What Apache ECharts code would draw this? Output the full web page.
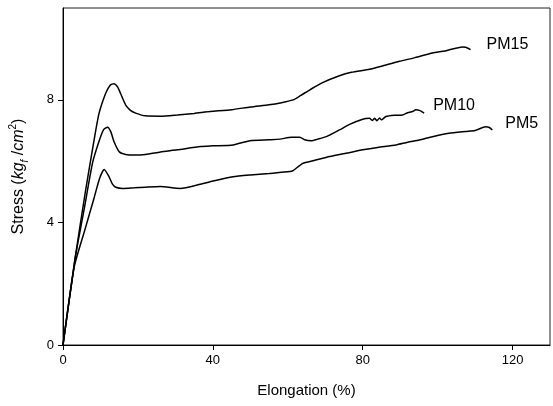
<!DOCTYPE html>
<html>
<head>
<meta charset="utf-8">
<script src="https://cdn.jsdelivr.net/npm/echarts@6/dist/echarts.min.js"></script>
<style>html,body{margin:0;padding:0;background:#fff;}#c{width:553px;height:406px;}</style>
</head>
<body>
<div id="c"></div>
<script>
// Elongation (%) , Stress (kgf/cm2)
const pm15 = [[0,0],[3.2,2.8],[6.1,5.1],[8.1,6.55],[9.6,7.55],[11.4,8.22],[12.6,8.48],[13.6,8.53],[14.6,8.42],[15.4,8.2],[16.7,7.84],[18,7.66],[19.4,7.57],[22,7.48],[26,7.47],[30.5,7.51],[35,7.56],[39.3,7.62],[45,7.68],[50,7.77],[55,7.84],[58,7.9],[61.4,8.0],[63.5,8.15],[65.9,8.33],[69,8.55],[73.8,8.79],[77,8.9],[81.8,9.0],[85,9.1],[89.8,9.26],[94,9.38],[98.6,9.53],[102,9.6],[106.6,9.73],[107.5,9.72],[108.8,9.64]];
const pm10 = [[0,0],[3.2,2.8],[5.6,4.4],[7.9,5.95],[9.6,6.64],[10.8,7.02],[11.9,7.11],[12.8,6.95],[13.6,6.64],[15,6.31],[16.7,6.22],[19,6.2],[22,6.22],[26,6.3],[30.5,6.37],[36.7,6.48],[40,6.5],[45.4,6.53],[49.9,6.67],[55,6.7],[57.9,6.72],[61,6.78],[63.2,6.78],[64.5,6.7],[66.3,6.67],[68,6.72],[70.3,6.8],[73.8,7.02],[76.5,7.2],[80,7.37],[81.8,7.4],[82.6,7.33],[83.2,7.4],[83.8,7.32],[84.5,7.41],[85,7.35],[86.2,7.46],[88.5,7.5],[90.6,7.51],[92,7.58],[93.3,7.62],[94.2,7.68],[95.3,7.65],[96.4,7.57]];
const pm5 = [[0,0],[3,2.55],[5.7,3.7],[8.3,4.8],[9.8,5.45],[11,5.73],[12.3,5.49],[13.2,5.25],[14.1,5.15],[15.9,5.11],[19,5.13],[22,5.15],[26,5.17],[31.3,5.11],[36.7,5.25],[39.3,5.33],[45.4,5.49],[50,5.55],[55,5.6],[60.6,5.66],[61.4,5.69],[64,5.93],[67,6.02],[71.2,6.15],[76,6.27],[80,6.37],[84,6.45],[88.9,6.53],[92,6.62],[95.1,6.69],[98.6,6.8],[103,6.91],[107.5,6.97],[110,7.0],[112.8,7.12],[113.8,7.1],[114.6,7.02]];
const seriesNames = ['PM15','PM10','PM5'];
const xTicks = [0,40,80,120];
const yTicks = [0,4,8];

const FONT = 'Liberation Sans, Arial, sans-serif';
const chart = echarts.init(document.getElementById('c'), null, {renderer:'canvas'});
const mk = (name, data, off) => ({
  name, type:'line', data, showSymbol:false, smooth:0.2,
  lineStyle:{color:'#000', width:1.5}, itemStyle:{color:'#000'},
  endLabel:{show:true, formatter:'{a}', color:'#000', fontFamily:FONT, fontSize:16, offset:off},
  animation:false
});
chart.setOption({
  animation:false,
  grid:{left:62, right:3, top:8, bottom:61, show:true, borderColor:'#222', borderWidth:1},
  xAxis:{type:'value', min:0, max:130, interval:40,
    axisLine:{show:true, onZero:false, lineStyle:{color:'#000', width:1}},
    axisTick:{show:true, length:5, customValues:xTicks, lineStyle:{color:'#000'}},
    axisLabel:{customValues:xTicks, color:'#000', fontFamily:FONT, fontSize:13, margin:9},
    splitLine:{show:false},
    name:'Elongation (%)', nameLocation:'middle', nameGap:38,
    nameTextStyle:{color:'#000', fontFamily:FONT, fontSize:15}},
  yAxis:{type:'value', min:0, max:11, interval:4,
    axisLine:{show:true, onZero:false, lineStyle:{color:'#000', width:1}},
    axisTick:{show:true, length:5, customValues:yTicks, lineStyle:{color:'#000'}},
    axisLabel:{customValues:yTicks, color:'#000', fontFamily:FONT, fontSize:13, margin:9},
    splitLine:{show:false},
    name:'{n|Stress (}{i|kg}{s|f}{n| /}{i|cm}{p|2}{n|)}', nameLocation:'middle', nameGap:33,
    nameTextStyle:{color:'#000', fontFamily:FONT, fontSize:16,
      rich:{
        n:{fontFamily:FONT, fontSize:16, color:'#000', lineHeight:22},
        i:{fontFamily:FONT, fontSize:16, fontStyle:'italic', color:'#000', lineHeight:22},
        s:{fontFamily:FONT, fontSize:10, fontStyle:'italic', color:'#000', verticalAlign:'bottom', lineHeight:13},
        p:{fontFamily:FONT, fontSize:10, color:'#000', verticalAlign:'top', lineHeight:13}
      }}},
  series:[mk(seriesNames[0], pm15, [8,-5]), mk(seriesNames[1], pm10, [1,-7]), mk(seriesNames[2], pm5, [5,-6])]
});
</script>
</body>
</html>
